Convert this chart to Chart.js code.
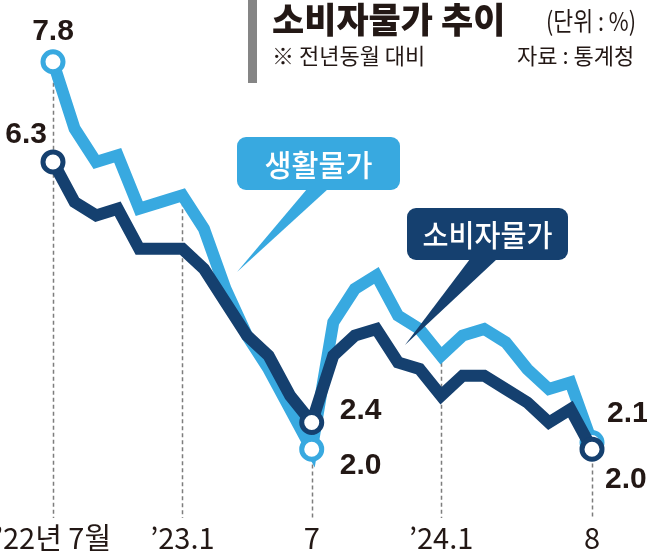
<!DOCTYPE html>
<html>
<head>
<meta charset="utf-8">
<script src="https://cdn.jsdelivr.net/npm/chart.js@4/dist/chart.umd.min.js"></script>
<style>
  html, body { margin: 0; padding: 0; background: #fff; }
  #wrap { width: 647px; height: 554px; }
</style>
</head>
<body>
<div id="wrap"><canvas id="cpiChart" width="647" height="554"></canvas></div>
<script>
  // '22.7 ~ '24.8, 전년동월 대비 (%)
  const months = [
    '2022-07', '2022-08', '2022-09', '2022-10', '2022-11', '2022-12',
    '2023-01', '2023-02', '2023-03', '2023-04', '2023-05', '2023-06',
    '2023-07', '2023-08', '2023-09', '2023-10', '2023-11', '2023-12',
    '2024-01', '2024-02', '2024-03', '2024-04', '2024-05', '2024-06',
    '2024-07', '2024-08'
  ];
  const tickText = [
    '’22년 7월', '', '', '', '', '',
    '’23.1', '', '', '', '', '',
    '7', '', '', '', '', '',
    '’24.1', '', '', '', '', '',
    '', '8'
  ];
  const consumerPrices = [6.3, 5.7, 5.5, 5.6, 5.0, 5.0, 5.0, 4.7, 4.2, 3.7, 3.4, 2.8, 2.4,
    3.4, 3.7, 3.8, 3.3, 3.2, 2.8, 3.1, 3.1, 2.9, 2.7, 2.4, 2.6, 2.0];
  const livingPrices = [7.8, 6.8, 6.3, 6.4, 5.6, 5.7, 5.8, 5.3, 4.4, 3.7, 3.2, 2.6, 2.0,
    3.9, 4.4, 4.6, 4.0, 3.8, 3.4, 3.7, 3.8, 3.6, 3.2, 2.9, 3.0, 2.1];
  const markIdx = [0, 12, 25];
  const guideIdx = [0, 6, 12, 18, 25];

  const NAVY = '#15406f';
  const SKY = '#38a9e0';
  const INK = '#231815';
  const KR = '"Noto Sans CJK KR", "Noto Sans", sans-serif';
  const NUM = '"Liberation Sans", Arial, sans-serif';
  const TICK = '"Liberation Sans Narrow", "Noto Sans CJK KR", sans-serif';

  // value labels: which series, which point, offset from the point
  const valueLabels = [
    { data: livingPrices, i: 0, dx: 0, dy: -22, align: 'center' },
    { data: consumerPrices, i: 0, dx: -6, dy: -19, align: 'right' },
    { data: consumerPrices, i: 12, dx: 28, dy: -3, align: 'left' },
    { data: livingPrices, i: 12, dx: 28, dy: 25, align: 'left' },
    { data: livingPrices, i: 25, dx: 15, dy: -21, align: 'left' },
    { data: consumerPrices, i: 25, dx: 13, dy: 39, align: 'left' }
  ];

  function markRadius(ctx) {
    return markIdx.includes(ctx.dataIndex) ? 10 : 0;
  }

  const guides = {
    id: 'guides',
    beforeDatasetsDraw(chart) {
      const c = chart.ctx, xs = chart.scales.x, ys = chart.scales.y;
      c.save();
      c.strokeStyle = '#7d7d7d';
      c.lineWidth = 1.5;
      c.setLineDash([4, 3]);
      guideIdx.forEach(function (i) {
        const x = Math.round(xs.getPixelForValue(i)) + 0.5;
        const top = ys.getPixelForValue(Math.max(consumerPrices[i], livingPrices[i]));
        c.beginPath();
        c.moveTo(x, top);
        c.lineTo(x, chart.chartArea.bottom + 2);
        c.stroke();
      });
      c.restore();
    }
  };

  function bubble(c, x, y, w, h, tail, color, text, textW) {
    c.fillStyle = color;
    c.beginPath();
    c.roundRect(x, y, w, h, 9);
    c.fill();
    c.beginPath();
    c.moveTo(tail[0], y + h - 1);
    c.lineTo(tail[1], y + h - 1);
    c.lineTo(tail[2], tail[3]);
    c.closePath();
    c.fill();
    c.fillStyle = '#fff';
    c.font = '500 30px ' + KR;
    c.textAlign = 'center';
    c.textBaseline = 'middle';
    c.fillText(text, x + w / 2, y + h / 2 + 1, textW);
  }

  const labels = {
    id: 'labels',
    afterDatasetsDraw(chart) {
      const c = chart.ctx, xs = chart.scales.x, ys = chart.scales.y;
      c.save();
      c.fillStyle = INK;
      c.font = 'bold 30px ' + NUM;
      c.textBaseline = 'alphabetic';
      valueLabels.forEach(function (l) {
        const x = xs.getPixelForValue(l.i) + l.dx;
        const y = ys.getPixelForValue(l.data[l.i]) + l.dy;
        c.textAlign = l.align;
        c.fillText(l.data[l.i].toFixed(1), x, y);
      });
      c.restore();
    },
    afterDraw(chart) {
      const c = chart.ctx;
      c.save();
      // title block
      c.fillStyle = '#858585';
      c.fillRect(248, 0, 9, 83);
      c.fillStyle = INK;
      c.textBaseline = 'middle';
      c.textAlign = 'left';
      c.font = '900 35px ' + KR;
      c.fillText('소비자물가 추이', 272, 20, 270);
      c.font = '26px ' + KR;
      c.fillText('(단위 : %)', 546, 21, 90);
      c.font = '22px ' + KR;
      c.fillText('※ 전년동월 대비', 272, 56, 166);
      c.fillText('자료 : 통계청', 517, 56, 122);

      bubble(c, 237, 137, 163, 53, [307, 328, 237, 272], SKY, '생활물가', 108);
      bubble(c, 407, 208, 161, 52, [470, 497, 405, 345], NAVY, '소비자물가', 130);
      c.restore();
    }
  };

  new Chart(document.getElementById('cpiChart'), {
    type: 'line',
    data: {
      labels: months,
      datasets: [
        {
          label: '소비자물가',
          data: consumerPrices,
          borderColor: NAVY,
          borderWidth: 12,
          pointRadius: markRadius,
          pointBackgroundColor: '#fff',
          pointBorderColor: NAVY,
          pointBorderWidth: 5,
          tension: 0,
          clip: false
        },
        {
          label: '생활물가',
          data: livingPrices,
          borderColor: SKY,
          borderWidth: 12,
          pointRadius: markRadius,
          pointBackgroundColor: '#fff',
          pointBorderColor: SKY,
          pointBorderWidth: 5,
          tension: 0,
          clip: false
        }
      ]
    },
    options: {
      responsive: false,
      devicePixelRatio: 1,
      animation: false,
      layout: { padding: { left: 53, right: 55, top: 4, bottom: 0 } },
      plugins: { legend: { display: false }, tooltip: { enabled: false } },
      scales: {
        x: {
          offset: false,
          grid: { display: false },
          border: { display: false },
          ticks: {
            autoSkip: false,
            minRotation: 0,
            maxRotation: 0,
            padding: -3,
            color: INK,
            font: { family: TICK, size: 29 },
            callback: function (v, i) { return tickText[i]; }
          },
          afterFit: function (s) {
            s.height = 38;
            s.paddingLeft = 0;
            s.paddingRight = 0;
          }
        },
        y: { display: false, min: 1, max: 8.5 }
      }
    },
    plugins: [guides, labels]
  });
</script>
</body>
</html>
